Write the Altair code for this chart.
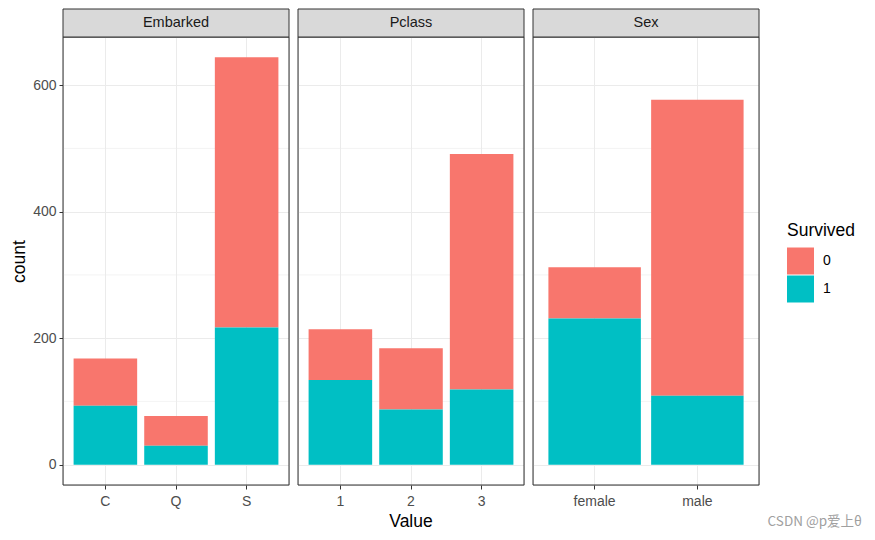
import altair as alt
import pandas as pd

variables = ["Embarked"] * 3 + ["Pclass"] * 3 + ["Sex"] * 2
values = ["C", "Q", "S", "1", "2", "3", "female", "male"]
died = [75, 47, 427, 80, 97, 372, 81, 468]
survived = [93, 30, 217, 134, 87, 119, 231, 109]

rows = []
for v, val, d, s in zip(variables, values, died, survived):
    rows.append({"Variable": v, "Value": val, "Survived": "0", "count": d})
    rows.append({"Variable": v, "Value": val, "Survived": "1", "count": s})
df = pd.DataFrame(rows)

W, H = 226, 448
FONT = "Liberation Sans"

yscale = alt.Scale(domain=[-32.2, 676.2], nice=False, zero=False)

minor = alt.Chart().transform_aggregate(
    n="count()", groupby=["Variable"]
).transform_calculate(m="[100, 300, 500]").transform_flatten(["m"]).mark_rule(
    color="#EBEBEB", strokeWidth=0.6
).encode(
    y=alt.Y("m:Q", scale=yscale),
    x=alt.value(0), x2=alt.value(W),
)

bars = alt.Chart().mark_bar(strokeWidth=0).encode(
    x=alt.X("Value:N", sort=None,
            scale=alt.Scale(paddingInner=0.1, paddingOuter=0.15),
            axis=alt.Axis(title=None, bandPosition=0.5, grid=True, gridColor="#EBEBEB",
                          domain=False, tickColor="#333333", tickSize=4, labelAngle=0,
                          labelColor="#4D4D4D", labelFontSize=14, labelPadding=5,
                          labelFont=FONT)),
    y=alt.Y("count:Q", scale=yscale,
            axis=alt.Axis(title="count", values=[0, 200, 400, 600], grid=True,
                          gridColor="#EBEBEB", domain=False, tickColor="#333333",
                          tickSize=4, labelColor="#4D4D4D", labelFontSize=14,
                          labelPadding=3, labelFont=FONT, titleFont=FONT,
                          titleFontSize=17.5, titleFontWeight="normal",
                          titleColor="black", titlePadding=4)),
    color=alt.Color("Survived:N",
                    scale=alt.Scale(domain=["0", "1"], range=["#F8766D", "#00BFC4"]),
                    legend=alt.Legend(title="Survived", orient="none",
                                      legendX=724, legendY=185,
                                      symbolType="square", symbolSize=729,
                                      symbolStrokeWidth=0, titleFontSize=17.5,
                                      titleFontWeight="normal", titleFont=FONT,
                                      titleColor="black", labelFont=FONT,
                                      labelFontSize=14, labelColor="black",
                                      labelOffset=9, rowPadding=1, titlePadding=8)),
    order=alt.Order("Survived:N", sort="descending"),
)

strip_base = alt.Chart().transform_aggregate(n="count()", groupby=["Variable"])
border = strip_base.mark_rect(fillOpacity=0, stroke="#333333", strokeWidth=1).encode(
    x=alt.value(0), x2=alt.value(W), y=alt.value(0), y2=alt.value(H)
)
strip_rect = strip_base.mark_rect(fill="#D9D9D9", stroke="#333333", strokeWidth=1).encode(
    x=alt.value(0), x2=alt.value(W), y=alt.value(-28), y2=alt.value(0)
)
strip_text = strip_base.mark_text(font=FONT, fontSize=14.5, color="#1A1A1A",
                                  baseline="middle").encode(
    x=alt.value(W / 2), y=alt.value(-14), text="Variable:N"
)

xtitle = strip_base.transform_filter(alt.datum.Variable == "Pclass").mark_text(
    font=FONT, fontSize=17.5, color="black", baseline="middle"
).encode(x=alt.value(W / 2), y=alt.value(485), text=alt.value("Value"))

watermark = strip_base.transform_filter(alt.datum.Variable == "Sex").mark_text(
    font="Noto Sans CJK SC", fontSize=13.5, color="#A0A0A0", baseline="middle", align="right"
).encode(x=alt.value(329), y=alt.value(485), text=alt.value("CSDN @p爱上θ"))

layer = alt.layer(minor, bars, border, strip_rect, strip_text, xtitle, watermark).properties(
    width=W, height=H
)

chart = layer.facet(
    column=alt.Column("Variable:N", header=alt.Header(title=None, labels=False,
                                                       labelPadding=0, titlePadding=0)),
    data=df,
    spacing=9,
    bounds="flush",
).resolve_scale(x="independent").configure_view(
    stroke=None
).configure(background="white").properties(padding={"left": 2, "top": 0, "right": 0, "bottom": 0})

chart.save("out.html", embed_options={"renderer": "svg", "actions": False})
